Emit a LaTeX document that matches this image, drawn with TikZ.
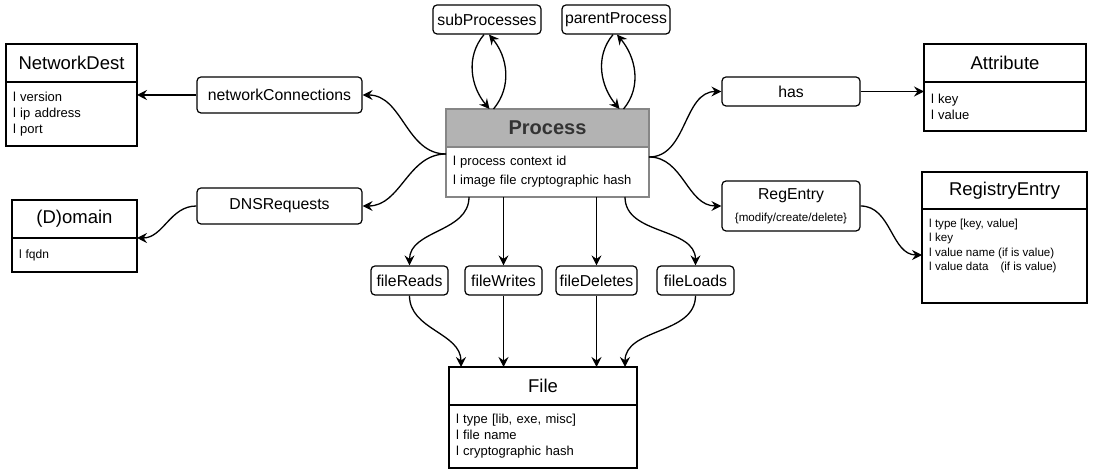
\documentclass[tikz,border=0pt]{standalone}
\usepackage{fontspec}
\setmainfont{Liberation Sans}
\usepackage{tikz}
\usetikzlibrary{arrows.meta}
\usetikzlibrary{positioning}
\definecolor{kopfgrau}{HTML}{B3B3B3}
\definecolor{randgrau}{HTML}{868686}
\definecolor{textgrau}{HTML}{333333}
\tikzset{
  Pfeil/.style={line width=1.3pt,->}, % für Pfeile
  Label/.style={draw,line width=1.2pt,rounded corners=4pt,inner sep=0pt,
    font=\fontsize{15.8}{19}\selectfont}, % für Beziehungen
  Kopf/.style={draw,line width=1.2pt,outer sep=0pt,inner sep=0pt,
    font=\fontsize{18.5}{22}\selectfont}, % Klassenname
  Rumpf/.style={draw,line width=1.2pt,outer sep=0pt,inner xsep=7pt,inner ysep=0pt,
    align=left,font=\fontsize{13}{16}\selectfont} % Attribute
}

\begin{document}
\begin{tikzpicture}[
x=1pt, y=1pt,
>={Stealth[length=10pt,width=10pt,inset=3.5pt]} % Voreinstellung für Pfeilspitzen
]
\useasboundingbox (0,0) rectangle (1094,470);

%Klassen
\node[Kopf, minimum width=131, minimum height=38] (ndKopf) at (71.5,407) {NetworkDest};
\node[Rumpf, below=0pt of ndKopf, text width=117, minimum height=64] (ndRumpf)
  {l version\\l ip address\\l port};

\node[Kopf, minimum width=125, minimum height=38] (domKopf) at (74.5,251) {(D)omain};
\node[Rumpf, below=0pt of domKopf, text width=111, minimum height=34,
  font=\fontsize{12}{15}\selectfont] (domRumpf) {l fqdn};

\node[Kopf, minimum width=162, minimum height=38] (attKopf) at (1005,407) {Attribute};
\node[Rumpf, below=0pt of attKopf, text width=148, minimum height=49] (attRumpf)
  {l key\\l value};

\node[Kopf, minimum width=165, minimum height=37] (regKopf) at (1004.5,279.5) {RegistryEntry};
\node[Rumpf, below=0pt of regKopf, minimum width=165, minimum height=94] (regRumpf) {};
\node[anchor=north west, align=left, inner sep=0pt, font=\fontsize{11.6}{14.4}\selectfont]
  (regText) at ([xshift=7pt,yshift=-10pt]regRumpf.north west)
  {l type [key, value]\\l key\\l value name (if is value)\\l value data\hspace{12pt}(if is value)};

\node[Kopf, minimum width=188, minimum height=38] (fileKopf) at (543,84) {File};
\node[Rumpf, below=0pt of fileKopf, text width=174, minimum height=63] (fileRumpf)
  {l type [lib, exe, misc]\\l file name\\l cryptographic hash};

\node[Kopf, minimum width=203, minimum height=38, fill=kopfgrau, draw=randgrau,
  text=textgrau, font=\fontsize{20}{24}\selectfont\bfseries] (procKopf) at (547.5,342) {Process};
\node[Rumpf, below=0pt of procKopf, text width=189, minimum height=50, draw=randgrau,
  font=\fontsize{13}{19}\selectfont] (procRumpf)
  {l process context id\\l image file cryptographic hash};

%Beziehungen
\node[Label, minimum width=165, minimum height=36] (nc) at (279.5,375) {networkConnections};
\node[Label, minimum width=165, minimum height=36] (dns) at (279.5,264) {DNSRequests};
\node[Label, minimum width=138, minimum height=29] (has) at (791,378.5) {has};
\node[Label, minimum width=138, minimum height=50, align=center] (reg) at (791,264)
  {RegEntry\\[3pt]{\fontsize{11.6}{14}\selectfont\{modify/create/delete\}}};
\node[Label, minimum width=108, minimum height=29] (sub) at (487,450.5) {subProcesses};
\node[Label, minimum width=108, minimum height=29] (par) at (616,450.5) {parentProcess};
\node[Label, minimum width=77, minimum height=29] (fr) at (409.5,189.5) {fileReads};
\node[Label, minimum width=77, minimum height=29] (fw) at (503.5,189.5) {fileWrites};
\node[Label, minimum width=81, minimum height=29] (fd) at (596.5,189.5) {fileDeletes};
\node[Label, minimum width=77, minimum height=29] (fl) at (695.5,189.5) {fileLoads};

%Pfeile links
\draw[Pfeil] (nc.west) -- (nc.west -| ndRumpf.east);
\draw[Pfeil] ([yshift=-7pt]procRumpf.north west) to[out=180,in=0] (nc.east);
\draw[Pfeil] ([yshift=-7pt]procRumpf.north west) to[out=180,in=0] (dns.east);
\draw[Pfeil] (dns.west) to[out=180,in=0] (domKopf.south east);

%Pfeile rechts
\draw[Pfeil] ([yshift=-10pt]procRumpf.north east) to[out=0,in=180] (has.west);
\draw[Pfeil] ([yshift=-10pt]procRumpf.north east) to[out=0,in=180] (reg.west);
\draw[Pfeil] (has.east) -- (has.east -| attRumpf.west);
\draw[Pfeil] (reg.east) to[out=0,in=180] ([yshift=-46pt]regRumpf.north west);

%Pfeile oben
\draw[Pfeil] ([xshift=-3pt]sub.south) to[out=-130,in=130] ([xshift=-58pt]procKopf.north);
\draw[Pfeil] ([xshift=-54pt]procKopf.north) to[out=50,in=-50] ([xshift=2pt]sub.south);
\draw[Pfeil] ([xshift=-3pt]par.south) to[out=-130,in=130] ([xshift=72pt]procKopf.north);
\draw[Pfeil] ([xshift=76pt]procKopf.north) to[out=50,in=-50] ([xshift=1pt]par.south);

%Pfeile unten
\draw[Pfeil] ([xshift=-78.5pt]procRumpf.south) to[out=-90,in=90] (fr.north);
\draw[Pfeil] (fw.north |- procRumpf.south) -- (fw.north);
\draw[Pfeil] (fd.north |- procRumpf.south) -- (fd.north);
\draw[Pfeil] ([xshift=77.5pt]procRumpf.south) to[out=-90,in=90] (fl.north);

\draw[Pfeil] (fr.south) to[out=-90,in=90] ([xshift=-82pt]fileKopf.north);
\draw[Pfeil] (fw.south) -- (fw.south |- fileKopf.north);
\draw[Pfeil] (fd.south) -- (fd.south |- fileKopf.north);
\draw[Pfeil] (fl.south) to[out=-90,in=90] ([xshift=82pt]fileKopf.north);

\end{tikzpicture}
\end{document}
